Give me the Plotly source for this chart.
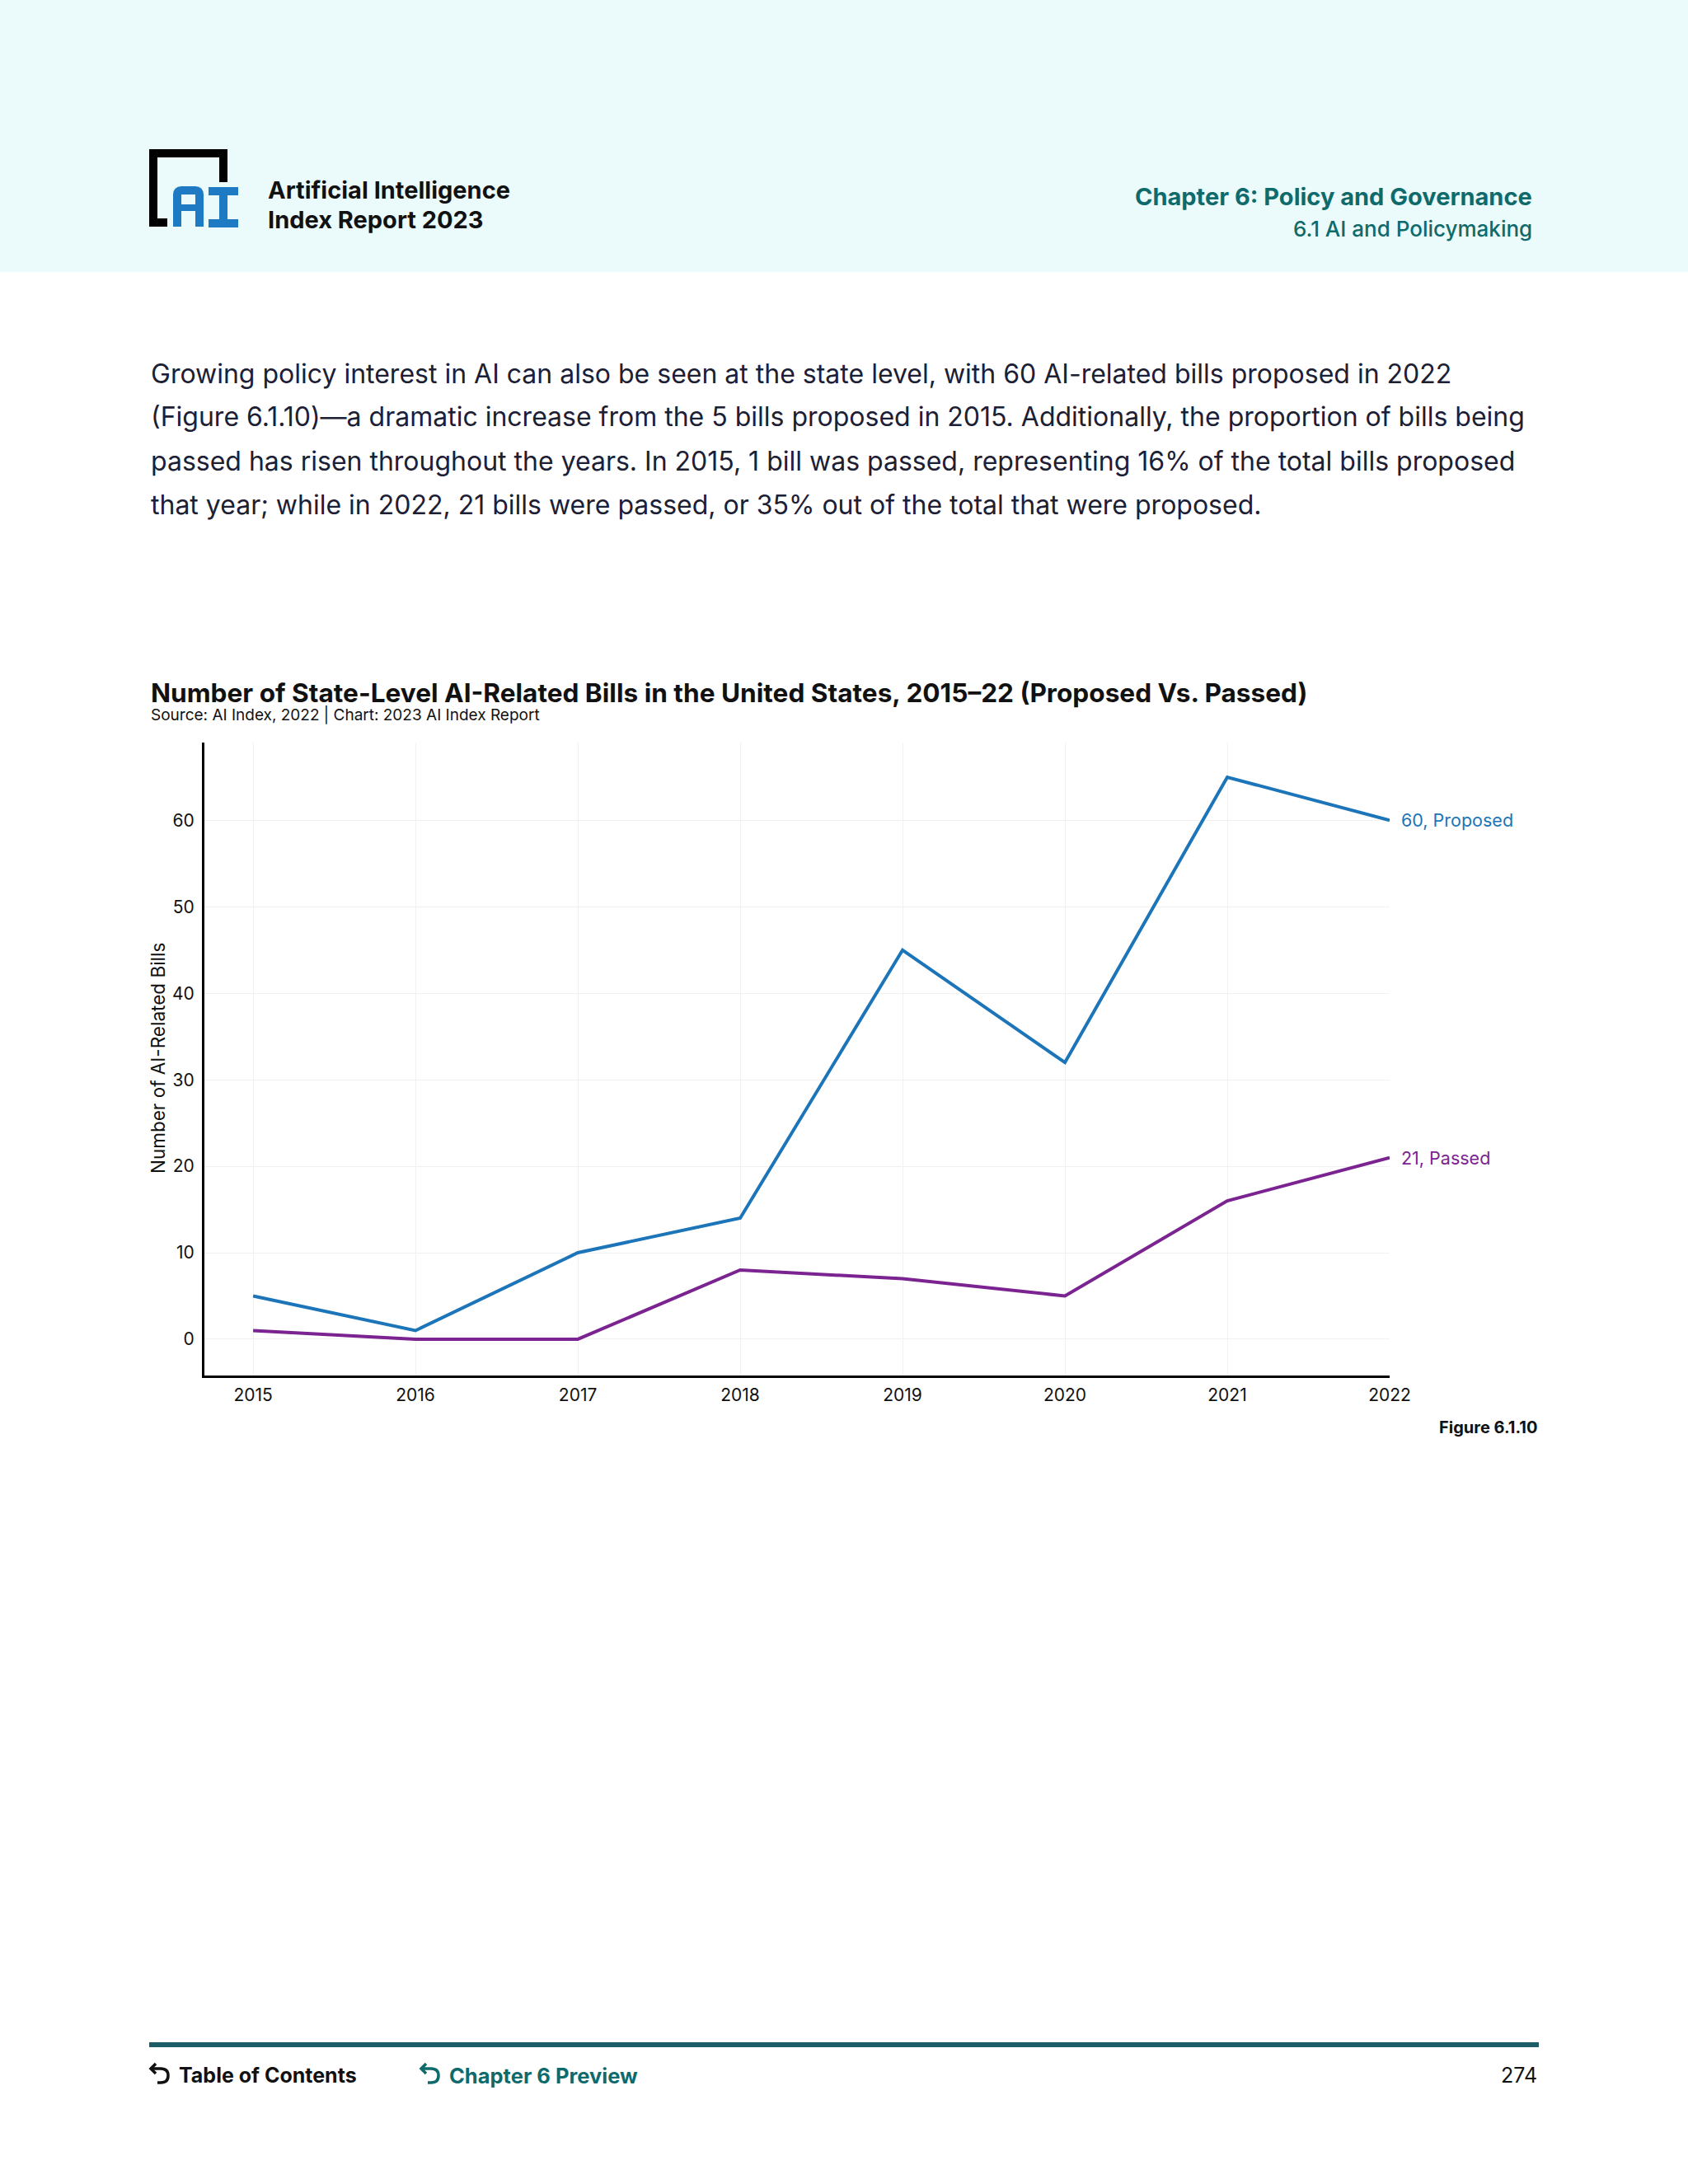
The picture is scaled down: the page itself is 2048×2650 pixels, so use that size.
import plotly.graph_objects as go

# ---------------- data ----------------
years = [2015, 2016, 2017, 2018, 2019, 2020, 2021, 2022]
proposed = [5, 1, 10, 14, 45, 32, 65, 60]
passed = [1, 0, 0, 8, 7, 5, 16, 21]
y_ticks = [0, 10, 20, 30, 40, 50, 60]

title = "Number of State-Level AI-Related Bills in the United States, 2015–22 (Proposed Vs. Passed)"
subtitle = "Source: AI Index, 2022 | Chart: 2023 AI Index Report"
body_lines = [
    "Growing policy interest in AI can also be seen at the state level, with 60 AI-related bills proposed in 2022",
    "(Figure 6.1.10)—a dramatic increase from the 5 bills proposed in 2015. Additionally, the proportion of bills being",
    "passed has risen throughout the years. In 2015, 1 bill was passed, representing 16% of the total bills proposed",
    "that year; while in 2022, 21 bills were passed, or 35% out of the total that were proposed.",
]

BLUE = "#1c75b8"
PURPLE = "#7b2390"
TEAL = "#0f6a6b"
NAVY = "#1c2035"
FONT = "Inter"

W, H = 2048, 2650
L, R, T, B = 248, 1686, 901, 1669  # plot area in pixels
PW, PH = R - L, B - T


def px(x):
    return (x - L) / PW


def py(y):
    return (B - y) / PH


fig = go.Figure()
fig.add_trace(go.Scatter(x=years, y=proposed, mode="lines", line=dict(color=BLUE, width=4),
                         name="Proposed", showlegend=False, cliponaxis=False))
fig.add_trace(go.Scatter(x=years, y=passed, mode="lines", line=dict(color=PURPLE, width=4),
                         name="Passed", showlegend=False, cliponaxis=False))

annotations = []
shapes = []

# end labels
annotations.append(dict(x=years[-1], y=proposed[-1], xref="x", yref="y", text=f"{proposed[-1]}, Proposed",
                        showarrow=False, xanchor="left", xshift=12, font=dict(size=21.5, color=BLUE, family=FONT)))
annotations.append(dict(x=years[-1], y=passed[-1], xref="x", yref="y", text=f"{passed[-1]}, Passed",
                        showarrow=False, xanchor="left", xshift=12, font=dict(size=21.5, color=PURPLE, family=FONT)))

# header background
shapes.append(dict(type="rect", xref="paper", yref="paper", x0=px(-10), x1=px(W + 10), y0=py(330), y1=py(-10),
                   fillcolor="#ebfafa", line=dict(width=0), layer="below"))

# logo bracket
bracket = f"M {px(203)},{py(270)} L {px(186)},{py(270)} L {px(186)},{py(186)} L {px(271)},{py(186)} L {px(271)},{py(221)}"
shapes.append(dict(type="path", xref="paper", yref="paper", path=bracket,
                   line=dict(color="#000000", width=10)))
# logo "A"
a_path = (f"M {px(215)},{py(275)} L {px(215)},{py(236)} Q {px(215)},{py(231)} {px(220)},{py(231)} "
          f"L {px(237)},{py(231)} Q {px(242)},{py(231)} {px(242)},{py(236)} L {px(242)},{py(275)}")
shapes.append(dict(type="path", xref="paper", yref="paper", path=a_path,
                   line=dict(color="#1f7ac4", width=10)))
shapes.append(dict(type="line", xref="paper", yref="paper", x0=px(215), x1=px(242), y0=py(252), y1=py(252),
                   line=dict(color="#1f7ac4", width=8)))
# logo "I"
for (x0, x1, y0, y1) in [(253, 289, 232, 232), (253, 289, 271, 271), (271, 271, 232, 271)]:
    shapes.append(dict(type="line", xref="paper", yref="paper", x0=px(x0), x1=px(x1), y0=py(y0), y1=py(y1),
                       line=dict(color="#1f7ac4", width=10)))

# header texts
annotations.append(dict(x=px(323), y=py(230), xref="paper", yref="paper", text="<b>Artificial Intelligence</b>",
                        showarrow=False, xanchor="left", yanchor="middle", font=dict(size=29, color="#111111", family=FONT)))
annotations.append(dict(x=px(323), y=py(266), xref="paper", yref="paper", text="<b>Index Report 2023</b>",
                        showarrow=False, xanchor="left", yanchor="middle", font=dict(size=29, color="#111111", family=FONT)))
annotations.append(dict(x=px(1861), y=py(238), xref="paper", yref="paper", text="<b>Chapter 6: Policy and Governance</b>",
                        showarrow=False, xanchor="right", yanchor="middle", font=dict(size=29, color=TEAL, family=FONT)))
annotations.append(dict(x=px(1861), y=py(277), xref="paper", yref="paper", text="6.1 AI and Policymaking",
                        showarrow=False, xanchor="right", yanchor="middle",
                        font=dict(size=26, color=TEAL, family=FONT, weight=500)))

# body paragraph
for i, line in enumerate(body_lines):
    annotations.append(dict(x=px(181), y=py(453 + i * 53), xref="paper", yref="paper", text=line,
                            showarrow=False, xanchor="left", yanchor="middle",
                            font=dict(size=32, color=NAVY, family=FONT)))

# chart title and subtitle
annotations.append(dict(x=px(181), y=py(840), xref="paper", yref="paper", text=f"<b>{title}</b>",
                        showarrow=False, xanchor="left", yanchor="middle", font=dict(size=31.6, color="#111111", family=FONT)))
annotations.append(dict(x=px(181), y=py(867), xref="paper", yref="paper", text=subtitle,
                        showarrow=False, xanchor="left", yanchor="middle", font=dict(size=19, color="#111111", family=FONT)))

# y-axis title
annotations.append(dict(x=px(191), y=py(1284), xref="paper", yref="paper", text="Number of AI-Related Bills",
                        showarrow=False, textangle=-90, xanchor="center", yanchor="middle",
                        font=dict(size=22.5, color="#111111", family=FONT)))

# figure label
annotations.append(dict(x=px(1867), y=py(1732), xref="paper", yref="paper", text="<b>Figure 6.1.10</b>",
                        showarrow=False, xanchor="right", yanchor="middle", font=dict(size=20, color="#111111", family=FONT)))

# footer
shapes.append(dict(type="line", xref="paper", yref="paper", x0=px(181), x1=px(1867), y0=py(2481), y1=py(2481),
                   line=dict(color="#1d5e66", width=6)))
for ax, col in [(180, "#111111"), (508, TEAL)]:
    arrow = (f"M {px(ax + 4)},{py(2510)} L {px(ax + 15)},{py(2510)} Q {px(ax + 24)},{py(2510)} {px(ax + 24)},{py(2518.5)} "
             f"Q {px(ax + 24)},{py(2527)} {px(ax + 15)},{py(2527)} L {px(ax + 11)},{py(2527)}")
    shapes.append(dict(type="path", xref="paper", yref="paper", path=arrow, line=dict(color=col, width=3.5)))
    head = f"M {px(ax + 9)},{py(2504)} L {px(ax + 3)},{py(2510)} L {px(ax + 9)},{py(2516)}"
    shapes.append(dict(type="path", xref="paper", yref="paper", path=head, line=dict(color=col, width=3.5)))
annotations.append(dict(x=px(215), y=py(2518), xref="paper", yref="paper", text="<b>Table of Contents</b>",
                        showarrow=False, xanchor="left", yanchor="middle", font=dict(size=25, color="#111111", family=FONT)))
annotations.append(dict(x=px(543), y=py(2518), xref="paper", yref="paper", text="<b>Chapter 6 Preview</b>",
                        showarrow=False, xanchor="left", yanchor="middle", font=dict(size=25.5, color=TEAL, family=FONT)))
annotations.append(dict(x=px(1867), y=py(2518), xref="paper", yref="paper", text="274",
                        showarrow=False, xanchor="right", yanchor="middle", font=dict(size=25, color="#111111", family=FONT)))

fig.update_layout(
    width=W, height=H, autosize=False,
    margin=dict(l=L, r=W - R, t=T, b=H - B, pad=0),
    paper_bgcolor="white", plot_bgcolor="white",
    font=dict(family=FONT, color="#111111"),
    annotations=annotations, shapes=shapes,
    xaxis=dict(range=[2014.70, 2022.0], tickmode="array", tickvals=years, ticktext=[str(y) for y in years],
               showgrid=True, gridcolor="#f1f1f1", gridwidth=1, zeroline=False,
               showline=True, linecolor="#000000", linewidth=3,
               ticks="", ticklabelstandoff=3, tickfont=dict(size=21, color="#111111", family=FONT)),
    yaxis=dict(range=[-4.2, 69], tickmode="array", tickvals=y_ticks,
               showgrid=True, gridcolor="#f1f1f1", gridwidth=1, zeroline=False,
               showline=True, linecolor="#000000", linewidth=3,
               ticks="", ticklabelstandoff=5, tickfont=dict(size=21, color="#111111", family=FONT)),
)

fig.write_html("out.html", config={"displayModeBar": False},
               post_script="document.body.style.margin='0';")
